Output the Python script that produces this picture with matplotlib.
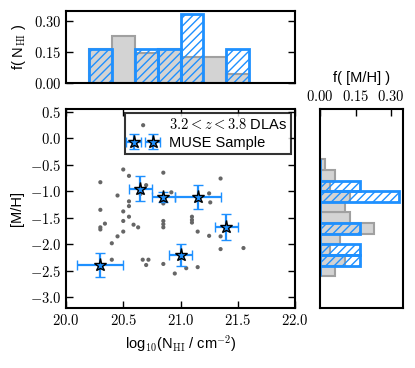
import numpy as np
import matplotlib
matplotlib.use("Agg")
import matplotlib.pyplot as plt
from matplotlib.ticker import FormatStrFormatter, FixedLocator

plt.rcParams['font.family'] = ['Liberation Sans', 'DejaVu Sans']
plt.rcParams['mathtext.fontset'] = 'cm'
plt.rcParams['font.size'] = 10
plt.rcParams['hatch.linewidth'] = 1.0
plt.rcParams['xtick.direction'] = 'in'
plt.rcParams['ytick.direction'] = 'in'

# ---------------- data ----------------
dla_nhi = [20.50, 20.55, 20.85, 20.30, 20.70, 20.45, 20.65, 20.55, 20.55, 20.30,
           20.50, 20.85, 20.55, 20.50, 20.34, 20.30, 20.30, 20.59, 20.63, 20.85,
           20.85, 20.85, 20.50, 20.45, 20.40, 20.40, 20.67, 20.72, 20.70, 20.85,
           20.85, 21.35, 20.92, 21.25, 21.26, 21.10, 21.10, 21.10, 21.15, 21.25,
           21.35, 21.35, 21.55, 21.15, 21.05, 20.95]
dla_mh = [-0.59, -0.71, -0.65, -0.83, -0.885, -1.08, -1.05, -1.19, -1.28, -1.35,
          -1.38, -1.23, -1.48, -1.56, -1.61, -1.68, -1.72, -1.63, -1.68, -1.56,
          -1.62, -1.68, -1.76, -1.85, -1.98, -2.29, -2.29, -2.29, -2.39, -2.37,
          -1.19, -0.76, -1.02, -1.04, -1.21, -1.48, -1.54, -1.59, -1.76, -1.84,
          -1.85, -2.09, -2.07, -2.43, -2.45, -2.55]

muse_nhi = [20.30, 20.65, 20.85, 21.00, 21.15, 21.40]
muse_mh = [-2.39, -0.95, -1.11, -2.20, -1.11, -1.67]
muse_nhi_err = [0.20, 0.10, 0.10, 0.10, 0.20, 0.10]
muse_mh_err = [0.22, 0.24, 0.10, 0.20, 0.23, 0.25]

nhi_edges = [20.2, 20.4, 20.6, 20.8, 21.0, 21.2, 21.4, 21.6]
dla_nhi_counts = [8, 11, 7, 8, 6, 6, 2]
muse_nhi_counts = [1, 0, 1, 1, 2, 0, 1]

mh_edges = [-2.6, -2.4, -2.2, -2.0, -1.8, -1.6, -1.4, -1.2, -1.0, -0.8, -0.6, -0.4]
dla_mh_counts = [3, 5, 2, 4, 11, 6, 5, 6, 2, 3, 1]
muse_mh_counts = [0, 1, 1, 0, 1, 0, 0, 2, 1, 0, 0]

# ---------------- figure ----------------
W, H = 415, 368
fig = plt.figure(figsize=(W / 100, H / 100), dpi=100)

def rect(l, r, t, b):
    return [l / W, (H - b) / H, (r - l) / W, (b - t) / H]

ax = fig.add_axes(rect(66, 295, 109, 308))
axt = fig.add_axes(rect(66, 295, 11, 83))
axr = fig.add_axes(rect(320, 403, 109, 308))

gray_face = '#d3d3d3'
gray_edge = '#a0a0a0'
blue = '#1e90ff'

# main scatter
ax.scatter(dla_nhi, dla_mh, s=9, color='#666666', edgecolors='none', zorder=2,
           label=r'$3.2 < z < 3.8$ DLAs')
ax.errorbar(muse_nhi, muse_mh, xerr=muse_nhi_err, yerr=muse_mh_err, fmt='*',
            color=blue, ecolor=blue, mfc=blue, mec='black', mew=1.0, ms=9.5,
            elinewidth=1.6, capsize=3.5, capthick=1.6, zorder=3, label='MUSE Sample')
ax.set_xlim(20.0, 22.0)
ax.set_ylim(-3.2, 0.55)
ax.xaxis.set_major_locator(FixedLocator([20.0, 20.5, 21.0, 21.5, 22.0]))
ax.yaxis.set_major_locator(FixedLocator([0.5, 0.0, -0.5, -1.0, -1.5, -2.0, -2.5, -3.0]))
ax.xaxis.set_major_formatter(FormatStrFormatter('$%.1f$'))
ax.yaxis.set_major_formatter(FormatStrFormatter('$%.1f$'))
ax.tick_params(top=True, right=True, length=5, width=1, labelsize=10.5)
ax.set_xlabel(r'log$_{10}$(N$_{\rm HI}$ / cm$^{-2}$)', fontsize=10.5, labelpad=4)
ax.set_ylabel('[M/H]', fontsize=10.5, labelpad=4)
leg = ax.legend(loc='upper right', numpoints=2, scatterpoints=1, fontsize=10.5,
                frameon=True, fancybox=False, handlelength=1.9, handletextpad=0.8,
                borderpad=0.3, labelspacing=0.25, borderaxespad=0.25)
leg.get_frame().set_edgecolor('black')
leg.get_frame().set_linewidth(1.5)

# top histogram
nw = np.diff(nhi_edges)
ax_n = np.array(nhi_edges[:-1])
axt.bar(ax_n, np.array(dla_nhi_counts) / 48.0, width=nw, align='edge',
        color=gray_face, edgecolor=gray_edge, linewidth=1.5, zorder=1)
axt.bar(ax_n, np.array(muse_nhi_counts) / 6.0, width=nw, align='edge',
        fill=False, edgecolor=blue, hatch='////', linewidth=2, zorder=2)
axt.set_xlim(20.0, 22.0)
axt.set_ylim(0, 0.35)
axt.set_xticks([])
axt.yaxis.set_major_locator(FixedLocator([0.0, 0.15, 0.30]))
axt.yaxis.set_major_formatter(FormatStrFormatter('$%.2f$'))
axt.tick_params(axis='y', right=True, length=5, width=1, labelsize=10.5)
axt.set_ylabel(r'f( N$_{\rm HI}$ )', fontsize=10.5, labelpad=4)

# right histogram
mw = np.diff(mh_edges)
mb = np.array(mh_edges[:-1])
axr.barh(mb, np.array(dla_mh_counts) / 48.0, height=mw, align='edge',
         color=gray_face, edgecolor=gray_edge, linewidth=1.5, zorder=1)
axr.barh(mb, np.array(muse_mh_counts) / 6.0, height=mw, align='edge',
         fill=False, edgecolor=blue, hatch='////', linewidth=2, zorder=2)
axr.set_ylim(-3.2, 0.55)
axr.set_xlim(0, 0.35)
axr.set_yticks([])
axr.xaxis.set_major_locator(FixedLocator([0.0, 0.15, 0.30]))
axr.xaxis.set_major_formatter(FormatStrFormatter('$%.2f$'))
axr.xaxis.set_label_position('top')
axr.tick_params(axis='x', top=True, bottom=False, labeltop=True, labelbottom=False,
                length=5, width=1, labelsize=10.5)
axr.set_xlabel('f( [M/H] )', fontsize=10.5, labelpad=5)

for a in (ax, axt, axr):
    for s in a.spines.values():
        s.set_linewidth(1.5)

fig.savefig('out.png', dpi=100)
